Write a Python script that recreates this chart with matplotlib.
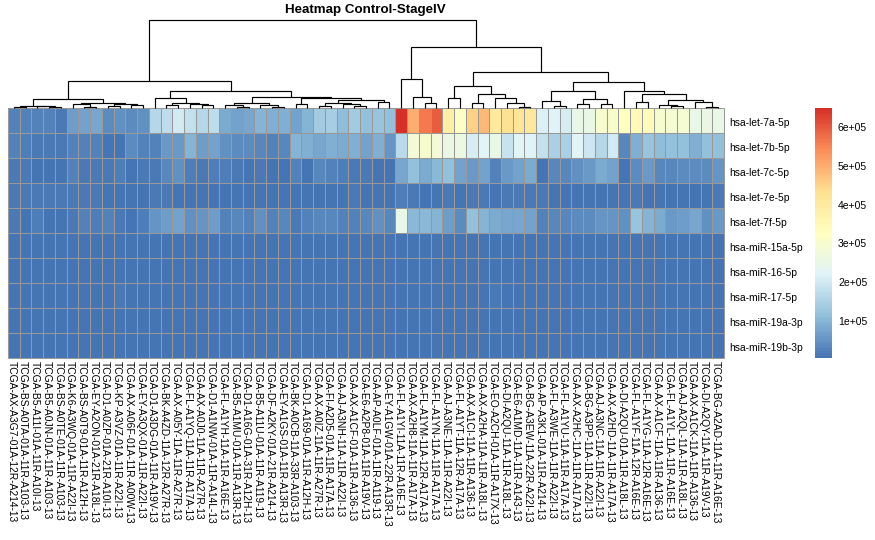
import numpy as np
import matplotlib
matplotlib.use("Agg")
import matplotlib.pyplot as plt
from matplotlib.colors import LinearSegmentedColormap
from matplotlib.transforms import ScaledTranslation

plt.rcParams["font.family"] = ["Liberation Sans", "DejaVu Sans"]

TITLE = "Heatmap Control-StageIV"

mirnas = ["hsa-let-7a-5p", "hsa-let-7b-5p", "hsa-let-7c-5p", "hsa-let-7e-5p", "hsa-let-7f-5p",
          "hsa-miR-15a-5p", "hsa-miR-16-5p", "hsa-miR-17-5p", "hsa-miR-19a-3p", "hsa-miR-19b-3p"]

samples = [
    "TCGA-AX-A3G7-01A-12R-A214-13", "TCGA-BS-A0TA-01A-11R-A103-13", "TCGA-B5-A11I-01A-11R-A10I-13",
    "TCGA-B5-A0JN-01A-11R-A103-13", "TCGA-BS-A0TE-01A-11R-A103-13", "TCGA-K6-A3WQ-01A-11R-A22I-13",
    "TCGA-BS-A0T9-01A-11R-A12H-13", "TCGA-EY-A2ON-01A-21R-A18L-13", "TCGA-D1-A0ZP-01A-21R-A10I-13",
    "TCGA-KP-A3VZ-01A-11R-A22I-13", "TCGA-AX-A06F-01A-11R-A00W-13", "TCGA-EY-A3QX-01A-11R-A22I-13",
    "TCGA-D1-A3DG-01A-11R-A19V-13", "TCGA-BK-A4ZD-11A-12R-A27R-13", "TCGA-AX-A05Y-11A-11R-A27R-13",
    "TCGA-FL-A1YQ-11A-11R-A17A-13", "TCGA-AX-A0J0-11A-11R-A27R-13", "TCGA-D1-A1NW-01A-11R-A14L-13",
    "TCGA-FL-A1YH-11A-11R-A16E-13", "TCGA-B5-A1MU-01A-11R-A13R-13", "TCGA-D1-A16G-01A-31R-A12H-13",
    "TCGA-B5-A11U-01A-11R-A119-13", "TCGA-DF-A2KY-01A-21R-A214-13", "TCGA-EY-A1GS-01A-11R-A13R-13",
    "TCGA-BK-A0CB-11A-33R-A103-13", "TCGA-D1-A169-01A-11R-A12H-13", "TCGA-AX-A0IZ-11A-11R-A27R-13",
    "TCGA-FI-A2D5-01A-11R-A17A-13", "TCGA-AJ-A3NH-11A-11R-A22I-13", "TCGA-AX-A1CF-01A-11R-A136-13",
    "TCGA-E6-A2P8-01A-11R-A19V-13", "TCGA-AP-A0LF-01A-11R-A119-13", "TCGA-EY-A1GW-01A-22R-A13R-13",
    "TCGA-FL-A1YI-11A-11R-A16E-13", "TCGA-AX-A2H8-11A-11R-A17A-13", "TCGA-FL-A1YM-11A-12R-A17A-13",
    "TCGA-FL-A1YN-11A-11R-A17A-13", "TCGA-AJ-A3NE-11A-11R-A22I-13", "TCGA-FL-A1YT-11A-12R-A17A-13",
    "TCGA-AX-A1CI-11A-11R-A136-13", "TCGA-AX-A2HA-11A-11R-A18L-13", "TCGA-EO-A2CH-01A-11R-A17X-13",
    "TCGA-DI-A2QU-11A-11R-A18L-13", "TCGA-E6-A1MD-11A-11R-A143-13", "TCGA-BG-A3EW-11A-22R-A22I-13",
    "TCGA-AP-A3K1-01A-11R-A214-13", "TCGA-FL-A3WE-11A-11R-A22I-13", "TCGA-FL-A1YU-11A-11R-A17A-13",
    "TCGA-AX-A2HC-11A-11R-A17A-13", "TCGA-BG-A3PP-11A-11R-A22I-13", "TCGA-AJ-A3NC-11A-11R-A22I-13",
    "TCGA-AX-A2HD-11A-11R-A17A-13", "TCGA-DI-A2QU-01A-11R-A18L-13", "TCGA-FL-A1YF-11A-12R-A16E-13",
    "TCGA-FL-A1YG-11A-12R-A16E-13", "TCGA-AX-A1CF-11A-11R-A136-13", "TCGA-FL-A1YL-11A-11R-A16E-13",
    "TCGA-AJ-A2QL-11A-11R-A18L-13", "TCGA-AX-A1CK-11A-11R-A136-13", "TCGA-DI-A2QY-11A-11R-A19V-13",
    "TCGA-BG-A2AD-11A-11R-A16E-13",
]

# expression in units of 1e5, one list per miRNA
let_7a = [.30, .25, .25, .25, .15, .65, .70, .80, .40, .45, .40, .50, 1.60, 1.75, 2.00, 1.80, 1.65, 1.75, .85, .75,
          .80, 1.00, .95, .90, .75, 1.00, 1.40, 1.45, 1.10, 1.35, 1.20, 1.25, 1.20, 6.49, 5.00, 5.60, 5.95, 3.80, 3.20,
          4.50, 4.85, 4.00, 4.25, 4.15, 4.10, 2.15, 2.20, 2.05, 2.55, 2.50, 2.95, 3.05, 3.25, 3.40, 3.35, 2.95, 2.90,
          2.90, 2.55, 2.60, 2.55]
let_7b = [.25, .20, .13, .12, .12, .25, .30, .25, .10, .08, .40, .30, .25, .60, .60, 1.00, .65, .75, .45, .40,
          .38, .35, .28, .33, 1.00, .90, .80, .90, .85, .90, .75, .90, .55, 1.70, 2.85, 3.00, 2.85, 2.60, 2.65,
          2.10, 2.25, 2.50, 1.90, 2.25, 2.20, 1.85, 1.50, 1.50, 2.25, 1.95, 1.65, 2.00, .35, .90, 1.25, 1.10, 1.15,
          1.20, .95, 1.20, 1.20]
let_7c = [.12, .15, .10, .10, .10, .25, .12, .12, .12, .20, .10, .13, .15, .35, .45, .20, .15, .20, .18, .13,
          .10, .13, .10, .05, .25, .07, .35, .28, .20, .12, .12, .10, .07, .80, 1.20, .85, 1.05, 1.15, .70,
          .60, .70, .27, .62, .70, .85, .05, .37, .37, .50, .60, .88, .75, .08, .40, .60, .37, .33,
          .42, .42, .38, .55]
let_7e = [.13, .12, .12, .12, .12, .15, .12, .13, .10, .10, .08, .10, .13, .15, .07, .05, .05, .10, .07, .08,
          .06, .10, .10, .08, .08, .08, .07, .08, .08, .12, .10, .07, .07, .22, .17, .10, .10, .12, .07,
          .14, .13, .10, .15, .12, .12, .12, .06, .10, .10, .06, .10, .08, .10, .12, .10, .10, .06,
          .08, .07, .08, .12]
let_7f = [.13, .10, .20, .10, .08, .15, .30, .20, .28, .13, .05, .20, .55, .65, .75, .45, .55, .65, .30, .33,
          .30, .50, .30, .33, .12, .25, .35, .33, .30, .25, .35, .50, .35, 2.50, 1.05, 1.07, .97, .65, .38,
          1.20, 1.00, .85, .77, .80, .73, .25, .33, .37, .38, .42, .55, .55, .45, 1.25, 1.00, .85, .62,
          .68, .82, .50, .60]
mir_15a = [.08, .08, .07, .07, .07, .08, .08, .07, .07, .07, .08, .08, .07, .07, .07, .07, .06, .07, .07, .07,
           .07, .06, .07, .06, .06, .06, .07, .07, .07, .07, .06, .06, .06, .07, .07, .07, .07, .07, .06,
           .06, .06, .07, .07, .07, .07, .06, .06, .06, .07, .07, .07, .07, .07, .07, .07, .07, .06,
           .06, .07, .07, .07]
mir_16 = [.07, .07, .07, .07, .07, .07, .07, .07, .07, .07, .08, .08, .07, .07, .08, .07, .07, .07, .07, .07,
          .07, .06, .07, .06, .06, .06, .07, .07, .07, .07, .06, .06, .06, .06, .07, .07, .06, .07, .06,
          .06, .06, .07, .07, .07, .07, .06, .06, .06, .06, .06, .07, .07, .07, .07, .07, .06, .06,
          .06, .07, .07, .07]
mir_17 = [.07, .07, .07, .07, .07, .07, .07, .07, .07, .15, .08, .08, .07, .07, .07, .07, .07, .07, .07, .07,
          .07, .06, .06, .06, .06, .06, .07, .07, .07, .07, .06, .06, .06, .06, .07, .07, .06, .07, .06,
          .07, .07, .13, .08, .07, .07, .06, .06, .06, .06, .06, .07, .07, .07, .07, .07, .06, .06,
          .06, .07, .07, .07]
mir_19a = [.07, .07, .07, .07, .07, .07, .07, .07, .07, .07, .07, .07, .07, .07, .07, .07, .07, .07, .07, .07,
           .07, .06, .07, .06, .06, .06, .07, .07, .07, .07, .06, .06, .06, .06, .07, .07, .06, .07, .06,
           .06, .07, .07, .07, .07, .07, .06, .06, .06, .06, .06, .07, .07, .07, .07, .07, .06, .06,
           .06, .07, .07, .07]
mir_19b = [.08, .08, .08, .08, .07, .08, .08, .07, .07, .07, .08, .08, .07, .07, .08, .07, .07, .07, .07, .07,
           .07, .07, .07, .06, .06, .06, .08, .08, .07, .07, .07, .07, .07, .07, .08, .08, .07, .07, .07,
           .07, .07, .07, .07, .08, .08, .07, .07, .07, .07, .07, .08, .08, .07, .07, .07, .07, .07,
           .07, .08, .08, .08]

# column clustering: (merge height, left, right), leaves are 1-based column numbers
left_1 = (2.3, (1.0, 1, 2), (2.0, 3, (1.0, 4, 5)))
left_2 = (4.7, (4.0, 6, (1.3, 7, 8)), (4.3, (2.0, 9, 10), (2.7, 11, 12)))
mid_1 = (9.7, 13, (4.6, (2.7, 14, 15), (4.4, 16, (2.7, 17, 18))))
mid_2 = (4.7, (2.7, 19, (0.7, 20, 21)), (2.7, 22, (0.7, 23, 24)))
mid_3 = (9.7, (3.7, 25, 26), (7.7, (4.7, (1.7, 27, 28), (4.0, 29, (2.3, 30, 31))), (5.7, 32, 33)))
branch_a = (27.0, (8.7, left_1, left_2), (17.0, mid_1, (11.5, mid_2, mid_3)))
red_part = (28.7, 34, (11.3, 35, (4.7, 36, 37)))
yellow_part = (21.7, (9.7, 38, 39), (13.7, (5.3, 40, 41), (9.7, 42, (5.3, 43, (1.3, 44, 45)))))
pale_1 = (16.7, (6.7, 46, (1.7, 47, 48)), (9.3, (3.7, 49, 50), (3.7, 51, 52)))
pale_2 = (16.7, 53, (14.3, (5.7, 54, 55), (7.7, (3.3, 56, (2.3, 57, 58)), (5.7, 59, (0.8, 60, 61)))))
branch_b = (61.0, red_part, (35.7, yellow_part, (25.7, pale_1, pale_2)))
col_tree = (88.0, branch_a, branch_b)

cbar_ticks = [100000, 200000, 300000, 400000, 500000, 600000]
cbar_labels = ["1e+05", "2e+05", "3e+05", "4e+05", "5e+05", "6e+05"]
vmin, vmax = 5000, 649000

W, H = 875, 540


def px_axes(fig, left, top, right, bottom):
    """Adds axes placed by pixel edges, measured from the top left corner."""
    return fig.add_axes([left / W, 1 - bottom / H, (right - left) / W, (bottom - top) / H])


def draw_tree(ax, node):
    """Draws one dendrogram node and returns its x position and height."""
    if isinstance(node, int):
        return node - 0.5, 0.0
    height, left, right = node
    x1, h1 = draw_tree(ax, left)
    x2, h2 = draw_tree(ax, right)
    ax.plot([x1, x1, x2, x2], [h1, height, height, h2], color="black", lw=0.85,
            solid_joinstyle="miter", solid_capstyle="butt", clip_on=False)
    return (x1 + x2) / 2, height


def main():
    values = np.array([let_7a, let_7b, let_7c, let_7e, let_7f,
                       mir_15a, mir_16, mir_17, mir_19a, mir_19b]) * 1e5
    n_rows, n_cols = values.shape

    # pheatmap default: reversed RdYlBu with 7 stops, cut into 100 colours
    cmap = LinearSegmentedColormap.from_list(
        "rdylbu7", ["#4575B4", "#91BFDB", "#E0F3F8", "#FFFFBF", "#FEE090", "#FC8D59", "#D73027"], N=100)

    fig = plt.figure(figsize=(W / 100, H / 100), dpi=100)

    ax = px_axes(fig, 8, 108, 724, 358)
    mesh = ax.pcolormesh(values, cmap=cmap, vmin=vmin, vmax=vmax)
    ax.set_xlim(0, n_cols)
    ax.set_ylim(n_rows, 0)
    # one pixel cell borders, grey60 as in pheatmap
    ax.vlines(np.arange(n_cols + 1), 0, n_rows, color="#999999", lw=0.75, clip_on=False)
    ax.hlines(np.arange(n_rows + 1), 0, n_cols, color="#999999", lw=0.75, clip_on=False)
    for spine in ax.spines.values():
        spine.set_visible(False)
    ax.set_xticks(np.arange(n_cols) + 0.5)
    ax.set_xticklabels(samples, rotation=270, ha="center", va="top", fontsize=7.4)
    ax.set_yticks(np.arange(n_rows) + 0.5)
    ax.set_yticklabels(mirnas, fontsize=7.4)
    ax.yaxis.tick_right()
    ax.tick_params(axis="x", length=0, pad=2.5)
    ax.tick_params(axis="y", length=0, pad=3.6)

    # nudge the labels to where the reference has them
    shift_x = ScaledTranslation(-2.5 / 100, 0, fig.dpi_scale_trans)
    for label in ax.get_xticklabels():
        label.set_transform(label.get_transform() + shift_x)
    shift_y = ScaledTranslation(0, -1.25 / 100, fig.dpi_scale_trans)
    for label in ax.get_yticklabels():
        label.set_transform(label.get_transform() + shift_y)

    tree_ax = px_axes(fig, 8, 0, 724, 108)
    tree_ax.set_xlim(0, n_cols)
    tree_ax.set_ylim(0, 108)
    tree_ax.axis("off")
    draw_tree(tree_ax, col_tree)

    fig.text(365.5 / W, 1 - 10.5 / H, TITLE, ha="center", va="center",
             fontsize=9.65, fontweight="bold")

    cax = px_axes(fig, 815, 108, 832, 358)
    cbar = fig.colorbar(mesh, cax=cax)
    cbar.outline.set_visible(False)
    cbar.set_ticks(cbar_ticks, labels=cbar_labels)
    cbar.ax.tick_params(length=0, pad=4.3, labelsize=7.5)

    fig.savefig("out.png", dpi=100)
    plt.close(fig)


if __name__ == "__main__":
    main()
